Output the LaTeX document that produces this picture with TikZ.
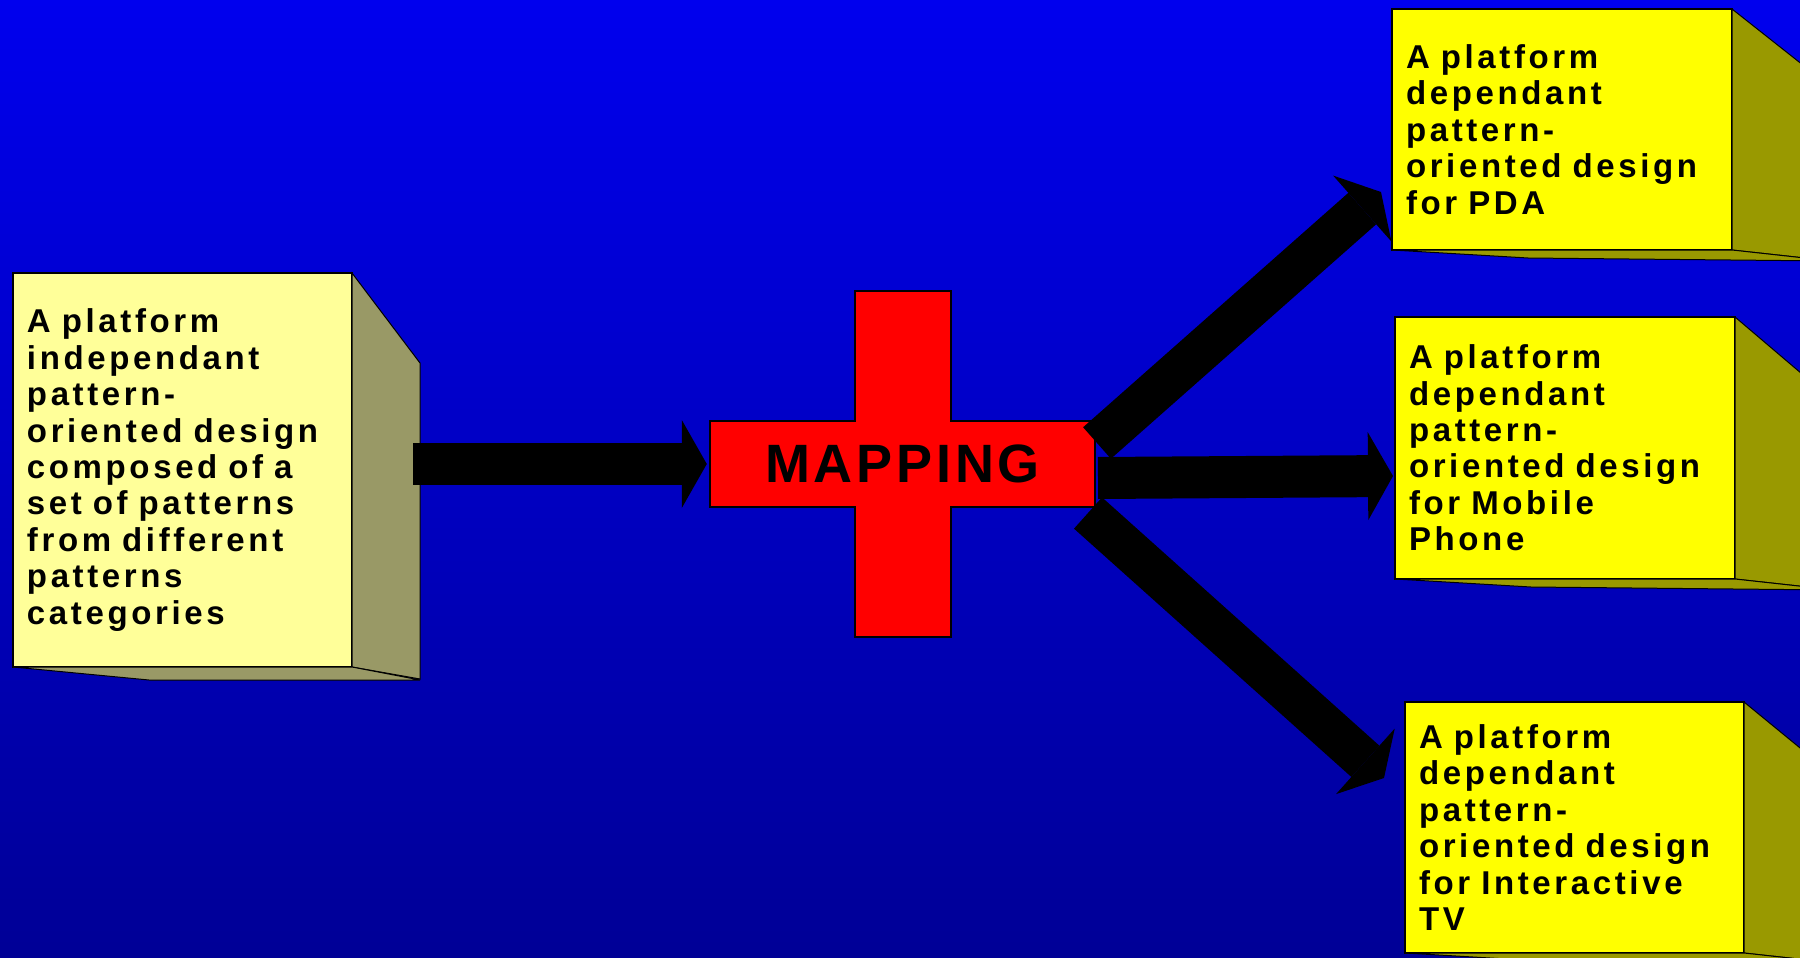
\documentclass[tikz,border=0pt]{standalone}
\usepackage{fontspec}
\setmainfont{Liberation Sans}
\newfontfamily\boxfont[LetterSpace=11,WordSpace=1.6]{Liberation Sans}
\newfontfamily\mapfont[LetterSpace=7]{Liberation Sans}
\usetikzlibrary{arrows.meta,calc}

\definecolor{bgtop}{RGB}{0,0,238}
\definecolor{bgbot}{RGB}{0,0,150}
\definecolor{paleyellow}{RGB}{255,255,153}
\definecolor{paleside}{RGB}{153,153,102}
\definecolor{brightface}{RGB}{255,255,0}
\definecolor{brightside}{RGB}{153,153,0}

\begin{document}
\begin{tikzpicture}[x=1pt, y=-1pt, line join=miter,
  frontbox/.style={rectangle, draw=black, line width=1.5pt, outer sep=0pt,
    anchor=north west, align=left, inner xsep=14pt, inner ysep=0pt,
    font=\boxfont\bfseries\fontsize{33}{36.4}\selectfont},
  depthface/.style={draw=black, line width=1pt},
  blockarrow/.style={line width=42pt, -{Triangle[length=25pt, width=88pt, line width=0pt]}}]
  \useasboundingbox (0,0) rectangle (1800,958);
  % backdrop
  \fill[top color=bgtop, bottom color=bgbot] (0,0) rectangle (1800,958);

  % platform independant design
  \node[frontbox, fill=paleyellow, text width=311pt, minimum height=394pt] (src) at (13,273)
    {A platform\\ independant\\ pattern-\\ oriented~design\\ composed~of~a\\ set~of~patterns\\ from~different\\ patterns\\ categories};
  \draw[depthface, fill=paleside] (src.north east) -- ++(68,90) -- ++(0,316) -- (src.south east) -- cycle;
  \draw[depthface, fill=paleside] (src.south west) -- ++(136,13) -- ($(src.south east)+(68,13)$) -- (src.south east) -- cycle;

  % mapping cross
  \draw[fill=red, line width=1.5pt] (855,291) -| (951,421) -| (1095,507) -| (951,637)
    -| (855,507) -| (710,421) -| (855,291) -- cycle;
  \node[font=\mapfont\bfseries\fontsize{54}{60}\selectfont, minimum width=385pt,
    minimum height=86pt, inner sep=0pt] (map) at (902.5,464) {MAPPING};

  % block arrows
  \coordinate (srcout) at (413,464);
  \coordinate (fanup) at (1097,443);
  \coordinate (fanmid) at (1098,478);
  \coordinate (fandown) at (1088,513);
  \coordinate (pdain) at (1381,192);
  \coordinate (phonein) at (1393,476);
  \coordinate (tvin) at (1384,778);
  \draw[blockarrow] (srcout) -- ([xshift=-3pt]map.west);
  \draw[blockarrow] (fanup) -- (pdain);
  \draw[blockarrow] (fanmid) -- (phonein);
  \draw[blockarrow] (fandown) -- (tvin);

  % platform dependant designs
  \node[frontbox, fill=brightface, text width=312pt, minimum height=241pt] (pda) at (1392,9)
    {A platform\\ dependant\\ pattern-\\ oriented~design\\ for~PDA};
  \node[frontbox, fill=brightface, text width=312pt, minimum height=262pt] (phone) at (1395,317)
    {A platform\\ dependant\\ pattern-\\ oriented~design\\ for~Mobile\\ Phone};
  \node[frontbox, fill=brightface, text width=311pt, minimum height=251pt] (tv) at (1405,702)
    {A platform\\ dependant\\ pattern-\\ oriented~design\\ for~Interactive\\ TV};
  \foreach \b/\dy in {pda/79, phone/85, tv/82} {
    \draw[depthface, fill=brightside] (\b.north east) -- ++(100,\dy) -- ($(\b.south east)+(100,11)$) -- (\b.south east) -- cycle;
    \draw[depthface, fill=brightside] (\b.south west) -- ++(136,8) -- ($(\b.south east)+(100,11)$) -- (\b.south east) -- cycle;
  }
\end{tikzpicture}
\end{document}
